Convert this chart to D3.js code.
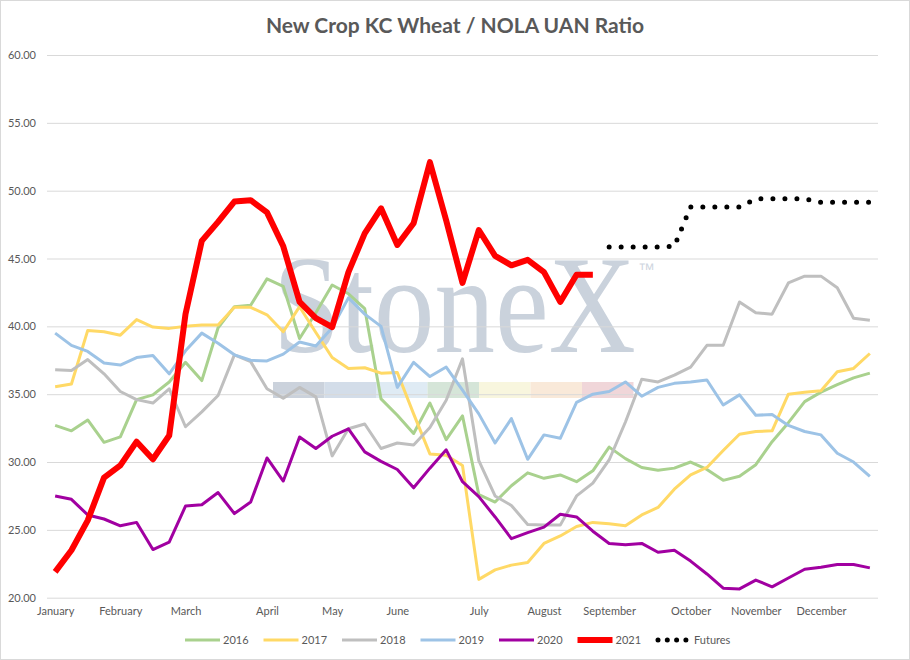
<!DOCTYPE html>
<html>
<head>
<meta charset="utf-8">
<script src="https://cdn.jsdelivr.net/npm/d3@7"></script>
<style>
  body { margin: 0; background: #fff; }
  svg { display: block; font-family: Lato, "Liberation Sans", sans-serif; }
</style>
</head>
<body>
<svg id="chart" width="910" height="660"></svg>
<script>
// weekly points, month name shown on the first week of each month
const monthNames = ['January', 'February', 'March', 'April', 'May', 'June', 'July', 'August', 'September', 'October', 'November', 'December'];
const monthWeeks = [0, 4, 8, 13, 17, 21, 26, 30, 34, 39, 43, 47];
const weekCount = 51;

const y2016 = [32.7, 32.3, 33.1, 31.45, 31.85, 34.6, 34.95, 35.9, 37.35, 36.0, 39.9, 41.45, 41.55, 43.5, 42.95, 39.1, 41.0, 43.05, 42.4, 41.3, 34.65, 33.45, 32.1, 34.35, 31.65, 33.4, 27.6, 27.05, 28.25, 29.2, 28.8, 29.05, 28.55, 29.35, 31.1, 30.25, 29.6, 29.4, 29.55, 30.0, 29.45, 28.65, 28.95, 29.8, 31.5, 32.9, 34.45, 35.15, 35.7, 36.2, 36.55];
const y2017 = [35.55, 35.75, 39.7, 39.6, 39.35, 40.5, 39.95, 39.85, 40.0, 40.1, 40.1, 41.4, 41.4, 40.85, 39.6, 41.45, 39.55, 37.7, 36.9, 36.95, 36.55, 36.6, 33.55, 30.6, 30.5, 29.75, 21.35, 22.05, 22.4, 22.6, 24.0, 24.55, 25.25, 25.55, 25.45, 25.3, 26.1, 26.65, 28.0, 29.05, 29.6, 30.85, 32.05, 32.25, 32.3, 35.0, 35.15, 35.25, 36.65, 36.9, 38.0];
const y2018 = [36.8, 36.75, 37.55, 36.5, 35.2, 34.6, 34.35, 35.4, 32.6, 33.7, 34.9, 37.9, 37.4, 35.4, 34.7, 35.5, 34.8, 30.45, 32.45, 32.8, 31.0, 31.4, 31.25, 32.55, 34.55, 37.6, 30.1, 27.5, 26.8, 25.4, 25.35, 25.35, 27.5, 28.45, 30.15, 32.95, 36.1, 35.9, 36.4, 37.0, 38.6, 38.6, 41.8, 41.0, 40.9, 43.2, 43.7, 43.7, 42.85, 40.6, 40.45];
const y2019 = [39.5, 38.6, 38.15, 37.3, 37.15, 37.7, 37.85, 36.5, 38.2, 39.5, 38.75, 37.9, 37.5, 37.45, 37.95, 38.85, 38.55, 39.9, 42.1, 40.9, 40.0, 35.5, 37.35, 36.3, 37.0, 35.3, 33.55, 31.4, 33.2, 30.2, 32.0, 31.75, 34.4, 35.0, 35.2, 35.9, 34.85, 35.5, 35.8, 35.9, 36.05, 34.2, 34.95, 33.45, 33.5, 32.7, 32.25, 32.0, 30.65, 30.0, 28.95];
const y2020 = [27.5, 27.25, 26.1, 25.8, 25.3, 25.55, 23.55, 24.1, 26.75, 26.85, 27.75, 26.2, 27.05, 30.3, 28.6, 31.85, 31.0, 31.9, 32.45, 30.75, 30.05, 29.45, 28.1, 29.55, 30.9, 28.55, 27.45, 25.95, 24.35, 24.8, 25.2, 26.15, 25.95, 24.9, 24.0, 23.9, 24.0, 23.35, 23.5, 22.7, 21.75, 20.7, 20.65, 21.3, 20.8, 21.45, 22.1, 22.25, 22.45, 22.45, 22.2];
const y2021 = [21.9, 23.5, 25.7, 28.85, 29.75, 31.5, 30.2, 31.95, 40.9, 46.3, 47.7, 49.2, 49.3, 48.4, 45.9, 41.8, 40.6, 39.95, 44.0, 46.85, 48.7, 46.0, 47.6, 52.1, 47.8, 43.2, 47.1, 45.2, 44.5, 44.9, 44.0, 41.8, 43.8, 43.8];
const futuresStart = 34;
const futures = [45.85, 45.85, 45.85, 45.85, 45.9, 48.8, 48.8, 48.8, 48.8, 49.4, 49.4, 49.4, 49.4, 49.15, 49.15, 49.15, 49.15];
const yTicks = [20, 25, 30, 35, 40, 45, 50, 55, 60];

const series = [
  { name: '2016', values: y2016, start: 0, color: '#a9d18e', width: 3 },
  { name: '2017', values: y2017, start: 0, color: '#ffd966', width: 3 },
  { name: '2018', values: y2018, start: 0, color: '#bfbfbf', width: 3 },
  { name: '2019', values: y2019, start: 0, color: '#9dc3e6', width: 3 },
  { name: '2020', values: y2020, start: 0, color: '#a100a1', width: 3 },
  { name: '2021', values: y2021, start: 0, color: '#ff0000', width: 6 },
  { name: 'Futures', values: futures, start: futuresStart, color: '#000000', width: 5, dots: true }
];

const svg = d3.select('#chart');
const plotLeft = 47, plotRight = 878, plotTop = 55, plotBottom = 597.7;

svg.append('rect')
  .attr('x', 0.5).attr('y', 0.5)
  .attr('width', 909).attr('height', 659)
  .attr('fill', '#fff')
  .attr('stroke', '#d9d9d9');

const x = d3.scalePoint()
  .domain(d3.range(weekCount))
  .range([plotLeft, plotRight])
  .padding(0.5);

const y = d3.scaleLinear()
  .domain([20, 60])
  .range([plotBottom, plotTop]);

svg.append('text')
  .attr('x', 455).attr('y', 33)
  .attr('text-anchor', 'middle')
  .style('font-size', '21px')
  .style('font-weight', 'bold')
  .style('fill', '#595959')
  .text('New Crop KC Wheat / NOLA UAN Ratio');

// watermark sits under the gridlines
const wm = svg.append('g');
wm.append('text')
  .attr('transform', 'translate(273,352) scale(1,1.15)')
  .style('font-family', '"Liberation Serif", serif')
  .style('font-size', '121px')
  .style('fill', '#cad2dc')
  .text('StoneX');
wm.append('text')
  .attr('x', 638).attr('y', 275)
  .style('font-family', '"Liberation Sans", sans-serif')
  .style('font-size', '17px')
  .style('fill', '#cfd6df')
  .text('™');
const bandColors = ['#cbd2dc', '#d3dde9', '#dfebf4', '#d5e5d8', '#f8f6de', '#f9e9d9', '#f0d6d9'];
wm.selectAll('rect.band')
  .data(bandColors)
  .enter().append('rect')
  .attr('x', (d, i) => 273 + i * 51.5)
  .attr('y', 382)
  .attr('width', 51.5)
  .attr('height', 16)
  .attr('fill', d => d);

// gridlines + y labels
const yAxis = svg.append('g')
  .attr('transform', `translate(${plotLeft},0)`)
  .call(d3.axisLeft(y).tickValues(yTicks).tickFormat(d3.format('.2f')).tickSize(-(plotRight - plotLeft)).tickPadding(11));
yAxis.select('.domain').remove();
yAxis.selectAll('line').attr('stroke', '#d9d9d9');
yAxis.selectAll('text').style('font-size', '11px').style('fill', '#595959').style('font-family', 'Lato');

const xAxis = svg.append('g')
  .attr('transform', `translate(0,${plotBottom})`)
  .call(d3.axisBottom(x).tickValues(monthWeeks).tickFormat((d, i) => monthNames[i]).tickSize(0).tickPadding(10));
xAxis.select('.domain').remove();
xAxis.selectAll('text').style('font-size', '11px').style('fill', '#595959').style('font-family', 'Lato');

const line = d3.line()
  .x(d => x(d.i))
  .y(d => y(d.v));

series.forEach(s => {
  const pts = s.values.map((v, k) => ({ i: s.start + k, v: v }));
  const path = svg.append('path')
    .datum(pts)
    .attr('d', line)
    .attr('fill', 'none')
    .attr('stroke', s.color)
    .attr('stroke-width', s.width)
    .attr('stroke-linejoin', 'round')
    .attr('stroke-linecap', s.dots ? 'round' : 'butt');
  if (s.dots) path.attr('stroke-dasharray', '0 12');
});

// legend
const legend = svg.append('g').attr('transform', 'translate(185,640)');
series.forEach((s, k) => {
  const g = legend.append('g').attr('transform', `translate(${k * 78.5},0)`);
  g.append('line')
    .attr('x1', s.dots ? 2 : 0).attr('x2', s.dots ? 30 : 35)
    .attr('y1', 0).attr('y2', 0)
    .attr('stroke', s.color)
    .attr('stroke-width', s.dots ? 5 : s.width)
    .attr('stroke-linecap', s.dots ? 'round' : 'butt')
    .attr('stroke-dasharray', s.dots ? '0 9.3' : null);
  g.append('text')
    .attr('x', 38).attr('y', 4)
    .style('font-size', '11px')
    .style('fill', '#595959')
    .text(s.name);
});
</script>
</body>
</html>
